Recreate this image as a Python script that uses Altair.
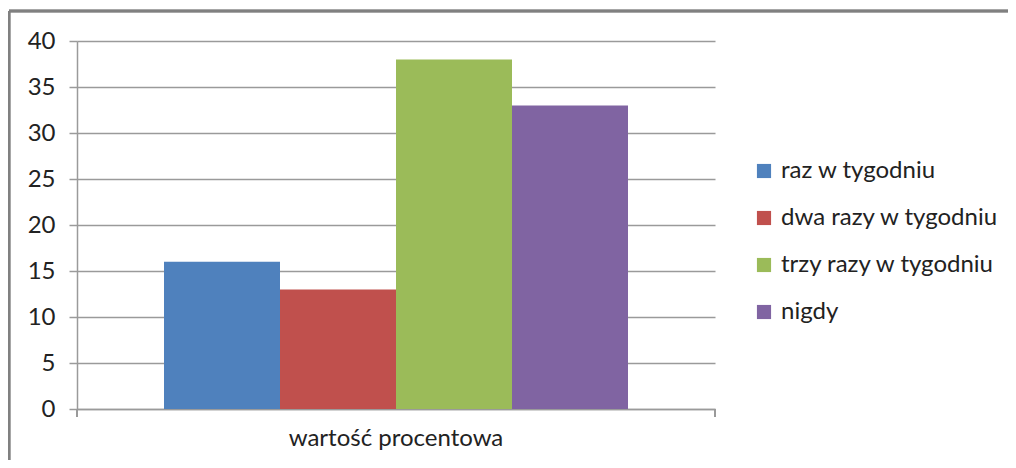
import altair as alt
import pandas as pd

categories = ["wartość procentowa"]
series = ["raz w tygodniu", "dwa razy w tygodniu", "trzy razy w tygodniu", "nigdy"]
values = [16, 13, 38, 33]
colors = ["#4F81BD", "#C0504D", "#9BBB59", "#8064A2"]
y_ticks = [0, 5, 10, 15, 20, 25, 30, 35, 40]

df = pd.DataFrame({
    "kategoria": categories * len(series),
    "seria": series,
    "wartosc": values,
})

W, H = 638, 368
FONT = "Lato"
FS = 24
GRID = "#9a9a9a"

bars = alt.Chart(df).mark_bar().encode(
    x=alt.X("kategoria:N", title=None,
            scale=alt.Scale(paddingInner=0, paddingOuter=0),
            axis=alt.Axis(labelAngle=0, ticks=False, labelFontSize=FS, labelLimit=0,
                          labelPadding=17, labelColor="#222", labelFont=FONT,
                          domainColor=GRID, domainWidth=1.5)),
    xOffset=alt.XOffset("seria:N", sort=series,
                        scale=alt.Scale(paddingInner=0, paddingOuter=0.75)),
    y=alt.Y("wartosc:Q", title=None,
            scale=alt.Scale(domain=[0, 40], nice=False),
            axis=alt.Axis(values=y_ticks, tickSize=8, tickColor=GRID, tickWidth=1.5,
                          gridColor=GRID, gridWidth=1.5, domainColor=GRID, domainWidth=1.5,
                          labelFontSize=FS, labelPadding=14, labelColor="#222",
                          labelFont=FONT)),
    color=alt.Color("seria:N", sort=series,
                    scale=alt.Scale(domain=series, range=colors),
                    legend=alt.Legend(title=None, orient="none", legendX=675, legendY=118,
                                      symbolType="square", symbolSize=200,
                                      symbolStrokeWidth=0, labelFontSize=FS,
                                      labelFont=FONT, labelColor="#222", labelLimit=0,
                                      labelOffset=5, rowPadding=23)),
)

# x-axis end ticks (category boundaries, Excel style)
tick_left = alt.Chart(df).mark_rule(color=GRID, strokeWidth=1.5).encode(
    x=alt.value(0), y=alt.value(H), y2=alt.value(H + 8))
tick_right = alt.Chart(df).mark_rule(color=GRID, strokeWidth=1.5).encode(
    x=alt.value(W), y=alt.value(H), y2=alt.value(H + 8))

# outer chart frame (left and top edges visible)
frame_left = alt.Chart(df).mark_rule(color="#808080", strokeWidth=2.5).encode(
    x=alt.value(-68), y=alt.value(-30), y2=alt.value(H + 100))
frame_top = alt.Chart(df).mark_rule(color="#808080", strokeWidth=2.5).encode(
    x=alt.value(-68), x2=alt.value(W + 300), y=alt.value(-30))

chart = alt.layer(bars, tick_left, tick_right, frame_left, frame_top).properties(
    width=W, height=H,
    autosize=alt.AutoSizeParams(type="none"),
    padding={"left": 69, "top": 33, "right": 1000 - 69 - W, "bottom": 452 - 33 - H},
).configure_view(stroke=None).configure_axis(grid=True).configure_axisX(grid=False)

chart.save("out.html", embed_options={"renderer": "svg", "actions": False})
